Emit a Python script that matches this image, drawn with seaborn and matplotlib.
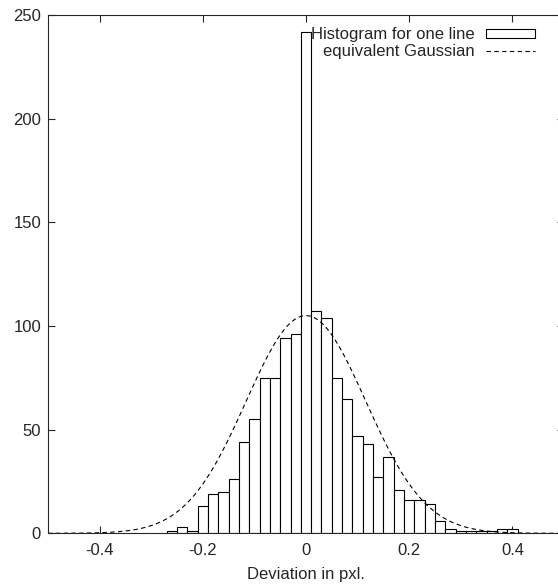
import numpy as np
import pandas as pd
import matplotlib
matplotlib.use("Agg")
import matplotlib.pyplot as plt
from matplotlib.patches import Patch
from matplotlib.lines import Line2D
import seaborn as sns

# histogram of deviations, bins 0.02 wide, centred on multiples of 0.02
bin_centers = np.round(np.arange(-0.26, 0.401, 0.02), 2)
counts = [1, 3, 1, 13, 19, 20, 26, 44, 55, 75, 75, 94, 96, 242,
          107, 104, 75, 65, 47, 43, 27, 37, 21, 16, 16, 14, 6, 2,
          1, 1, 1, 1, 2, 2]
bin_edges = [round(v, 2) for v in np.arange(-0.27, 0.411, 0.02)]

# equivalent Gaussian
gauss_peak = 105.0
gauss_mean = 0.0
gauss_sigma = 0.116

xticks = [-0.4, -0.2, 0, 0.2, 0.4]
xticklabels = ["-0.4", "-0.2", "0", "0.2", "0.4"]
yticks = [0, 50, 100, 150, 200, 250]

df = pd.DataFrame({"dev": bin_centers, "n": counts})

sns.set_style("ticks")
plt.rcParams["font.family"] = ["Liberation Sans", "DejaVu Sans"]
plt.rcParams["font.size"] = 12

fig = plt.figure(figsize=(5.58, 5.85), dpi=100)
ax = fig.add_axes([48 / 558, 51.7 / 585, 516 / 558, 518.3 / 585])

sns.histplot(data=df, x="dev", weights="n", bins=bin_edges, color="white",
             edgecolor="black", linewidth=0.8, alpha=1, ax=ax)

gx = np.linspace(-0.5, 0.5, 400)
gy = gauss_peak * np.exp(-(gx - gauss_mean) ** 2 / (2 * gauss_sigma ** 2))
ax.plot(gx, gy, color="black", lw=0.8, linestyle=(0, (4, 3)))

ax.set_xlim(-0.5, 0.5)
ax.set_ylim(0, 250)
ax.set_xticks(xticks)
ax.set_xticklabels(xticklabels)
ax.set_yticks(yticks)
ax.set_ylabel("")
ax.set_xlabel("Deviation in pxl.", labelpad=6.5)
ax.tick_params(direction="in", length=5, width=0.8, top=True, right=True)
ax.tick_params(axis="x", pad=7)
ax.tick_params(axis="y", pad=5)
for s in ax.spines.values():
    s.set_visible(True)
    s.set_linewidth(0.8)

handles = [Patch(facecolor="white", edgecolor="black", lw=0.8),
           Line2D([], [], color="black", lw=0.8, linestyle=(0, (4, 3)))]
leg = ax.legend(handles, ["Histogram for one line", "equivalent Gaussian"],
                loc="upper right", bbox_to_anchor=(543 / 558, 1 - 19 / 585),
                bbox_transform=fig.transFigure, frameon=False, borderpad=0,
                markerfirst=False, handlelength=2.9, handleheight=0.45,
                handletextpad=0.7, labelspacing=0.1)
for col in leg._legend_handle_box.get_children():
    col.align = "right"

fig.savefig("out.png", dpi=100)
